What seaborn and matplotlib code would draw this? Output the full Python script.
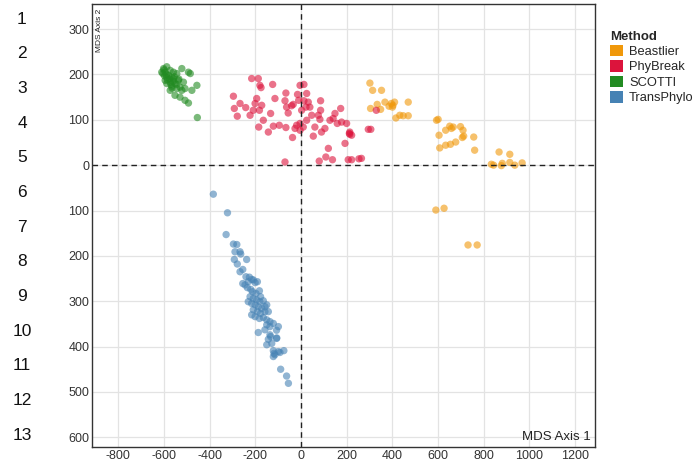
import pandas as pd
import matplotlib.pyplot as plt
import seaborn as sns
from matplotlib.ticker import FuncFormatter
from matplotlib.patches import Patch

# MDS coordinates (axis 1, axis 2)
beastlier_x = [302, 314, 353, 305, 334, 349, 368, 386, 396, 403, 410, 401, 416, 433, 448, 470, 470,
               594, 601, 652, 659, 634, 667, 699, 710, 605, 707, 713, 757, 608, 634, 655, 678, 761,
               868, 915, 834, 844, 878, 882, 915, 937, 969, 591, 627, 732, 772]
beastlier_y = [181, 165, 165, 125, 134, 123, 139, 130, 136, 132, 139, 128, 104, 110, 109, 109, 139,
               99, 101, 86, 81, 77, 84, 85, 77, 66, 61, 64, 62, 38, 44, 46, 51, 33,
               29, 24, 2, 0, -1, 4, 6, 0, 5, -99, -95, -176, -176]

phybreak_x = [-296, -267, -292, -279, -242, -216, -187, -180, -175, -194, -201, -209, -223, -182, -172,
              -165, -185, -143, -133, -124, -114, -121, -95, -70, -63, -66, -56, -37, -66, -41, -34,
              -15, -10, -4, 13, 3, 13, 22, 25, 32, 39, 47, -4, 10, 25, -19, -26, -4, 54, 61, 76, 86,
              86, 83, 90, 105, 120, 109, 138, 80, 127, 141, 149, 159, 174, 193, 200, 212, 207, -70,
              214, 222, 222, 254, 295, 306, 330, 178, 214, 265]
phybreak_y = [152, 136, 125, 108, 127, 191, 191, 176, 171, 147, 136, 121, 110, 121, 132,
              99, 84, 73, 114, 178, 147, 86, 88, 142, 128, 159, 115, 61, 83, 131, 134,
              156, 143, 176, 178, 121, 142, 128, 158, 139, 128, 110, 92, 84, 99, 88, 81, 77, 64, 84, 110, 142,
              121, 101, 73, 81, 37, 18, 12, 9, 99, 103, 114, 92, 125, 48, 92, 70, 12, 7,
              73, 66, 12, 14, 79, 79, 121, 95, 68, 15]

scotti_x = [-602, -588, -595, -573, -559, -580, -566, -544, -522, -493, -485, -595, -573, -552, -530,
            -508, -478, -456, -573, -552, -530, -508, -493, -454, -588, -559, -537, -515, -522, -544,
            -566, -588, -605, -600, -590, -575, -560, -545, -555, -535, -610, -598, -585, -570, -565]
scotti_y = [213, 217, 205, 209, 205, 198, 194, 202, 213, 205, 202, 187, 183, 180, 172,
            169, 165, 176, 165, 154, 150, 143, 137, 105, 194, 190, 187, 183, 165, 169,
            174, 180, 202, 210, 200, 190, 185, 178, 195, 190, 205, 197, 188, 178, 170]

transphylo_x = [-384, -322, -328, -296, -281, -289, -267, -264, -292, -279, -238, -255, -267,
                -241, -226, -216, -231, -209, -201, -191, -255, -245, -235, -220, -212, -197, -182,
                -177, -223, -209, -194, -180, -165, -231, -216, -201, -187, -172, -158, -150, -209,
                -191, -177, -158, -143, -216, -201, -182, -165, -150, -136, -150, -136, -121, -99,
                -107, -187, -158, -136, -143, -106, -150, -128, -121, -114, -99, -121, -89, -63, -55,
                -133, -107, -92, -75, -118]
transphylo_y = [-64, -105, -153, -174, -175, -191, -191, -196, -208, -218, -208, -230, -235,
                -246, -247, -252, -257, -253, -259, -257, -261, -264, -270, -274, -279, -283, -277,
                -290, -290, -294, -297, -301, -299, -301, -305, -308, -312, -316, -312, -308, -319,
                -323, -327, -323, -323, -330, -334, -338, -336, -341, -345, -352, -356, -349, -356,
                -364, -369, -363, -374, -384, -381, -396, -393, -409, -418, -411, -422, -450, -465, -481,
                -378, -382, -413, -409, -415]

methods = ["Beastlier", "PhyBreak", "SCOTTI", "TransPhylo"]
colors = {"Beastlier": "#f0980a", "PhyBreak": "#dc143c", "SCOTTI": "#228b22", "TransPhylo": "#4682b4"}

df = pd.concat([
    pd.DataFrame({"x": beastlier_x, "y": beastlier_y, "Method": "Beastlier"}),
    pd.DataFrame({"x": phybreak_x, "y": phybreak_y, "Method": "PhyBreak"}),
    pd.DataFrame({"x": scotti_x, "y": scotti_y, "Method": "SCOTTI"}),
    pd.DataFrame({"x": transphylo_x, "y": transphylo_y, "Method": "TransPhylo"}),
])

sns.set_style("whitegrid")
plt.rcParams['font.family'] = ['Liberation Sans', 'DejaVu Sans']
plt.rcParams['axes.unicode_minus'] = False

fig = plt.figure(figsize=(6.98, 4.63), dpi=100)
ax = fig.add_axes([0.132, 0.035, 0.720, 0.956])

sns.scatterplot(data=df, x="x", y="y", hue="Method", palette=colors, hue_order=methods,
                s=28, alpha=0.6, edgecolor="none", legend=False, ax=ax)

ax.axhline(0, color="#222222", ls=(0, (4, 3)), lw=1.0, zorder=1)
ax.axvline(0, color="#222222", ls=(0, (4, 3)), lw=1.0, zorder=1)

ax.set_xlim(-915, 1287)
ax.set_ylim(-621, 355)
ax.set_xticks(range(-800, 1201, 200))
ax.set_yticks(range(-600, 301, 100))
ax.yaxis.set_major_formatter(FuncFormatter(lambda v, p: f"{abs(int(v))}"))
ax.set_xlabel("")
ax.set_ylabel("")
ax.tick_params(length=0, labelsize=9, colors="#333333", pad=2)
ax.grid(color="#e3e3e3", lw=0.9)
for sp in ax.spines.values():
    sp.set_color("#333333")
    sp.set_linewidth(1.0)

ax.text(0.008, 0.99, "MDS Axis 2", transform=ax.transAxes, rotation=90, ha="left", va="top",
        fontsize=6, color="#222222")
ax.text(0.992, 0.008, "MDS Axis 1", transform=ax.transAxes, ha="right", va="bottom",
        fontsize=9.5, color="#222222")

handles = [Patch(facecolor=colors[m], edgecolor="none", label=m) for m in methods]
leg = fig.legend(handles=handles, title="Method", loc="upper left", bbox_to_anchor=(0.866, 0.945),
                 frameon=False, fontsize=9.3, title_fontsize=9.5, handlelength=1.0, handleheight=1.0,
                 handletextpad=0.5, labelspacing=0.17, borderaxespad=0)
leg.get_title().set_fontweight("bold")
leg._legend_box.align = "left"

# manuscript line numbers along the left edge
for i in range(1, 14):
    fig.text(22 / 698, 1 - (19 + (i - 1) * 34.7) / 463, str(i), ha="center", va="center",
             fontsize=12.5, color="#111111")

fig.savefig("out.png", dpi=100)
